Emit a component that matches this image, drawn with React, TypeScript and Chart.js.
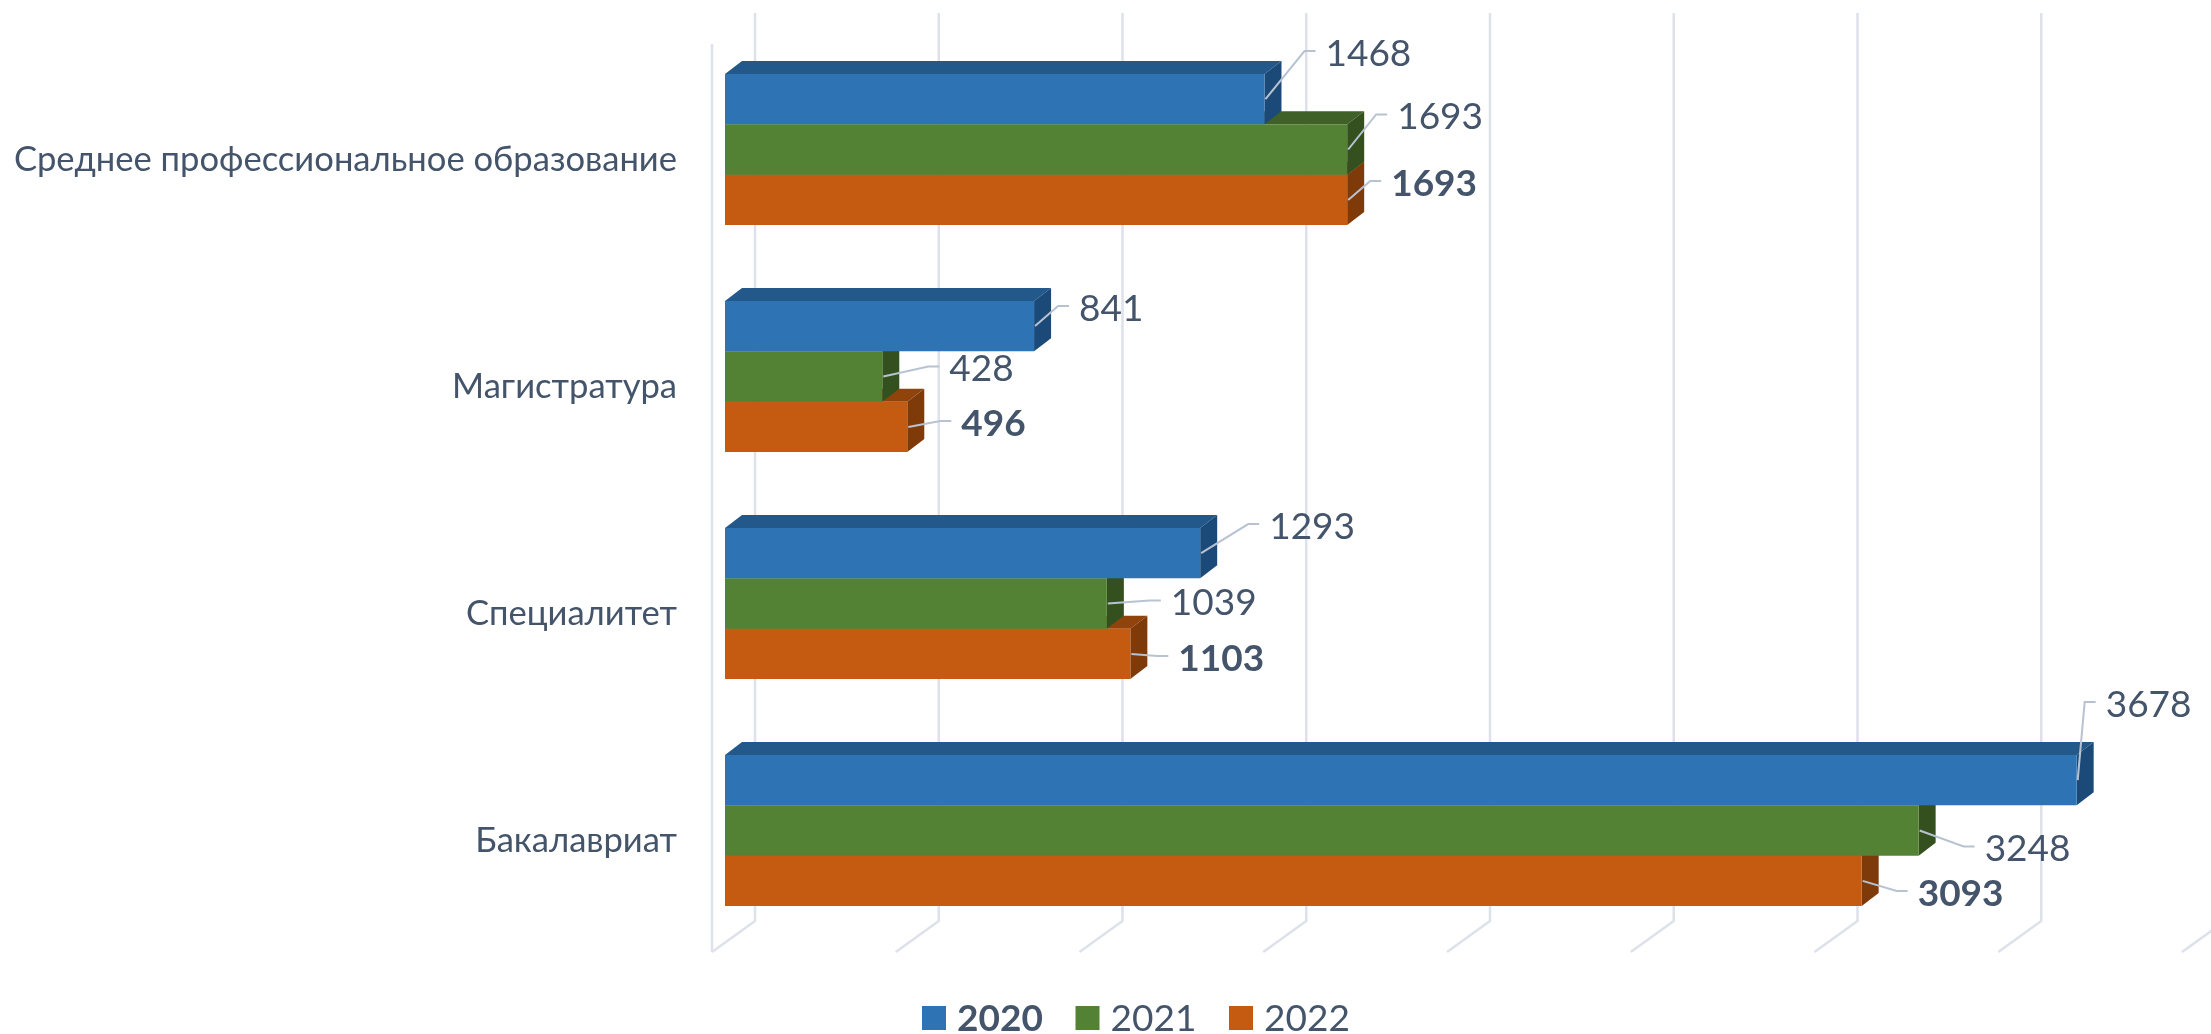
import React, { useEffect, useRef } from "react";
import { Chart, registerables } from "chart.js";

Chart.register(...registerables);

const categories = ["Среднее профессиональное образование", "Магистратура", "Специалитет", "Бакалавриат"];
const seriesNames = ["2020", "2021", "2022"];
const values2020 = [1468, 841, 1293, 3678];
const values2021 = [1693, 428, 1039, 3248];
const values2022 = [1693, 496, 1103, 3093];

const frontColors = ["#2E74B5", "#548235", "#C55A11"];
const topColors = ["#22588A", "#3F6128", "#91430C"];
const sideColors = ["#1C4A78", "#35501F", "#7F3A0A"];
const textColor = "#44546A";
const gridColor = "#DDE1EA";
const leaderColor = "#B8C3D2";
const FONT = "Lato, 'Noto Sans', sans-serif";
const VALUE_SIZE = 37;
const CATEGORY_SIZE = 34.6;

// Leader-line elbows [dx, dy] from the end of each bar, then the run to the label.
const elbows2020 = [[40, -48], [24, -20], [48, -29], [8, -78]];
const elbows2021 = [[29, -35], [46, -10], [43, -3], [45, 16]];
const elbows2022 = [[23, -19], [33, -6], [27, 2], [35, 10]];
const elbows = [elbows2020, elbows2021, elbows2022];

const depth = { x: 17, y: 13 };
const wall = { fx: -13, fy: 10, bx: 30, by: -23 };

const poly = (ctx: CanvasRenderingContext2D, pts: number[][], fill: string) => {
  ctx.beginPath();
  pts.forEach((p, i) => (i ? ctx.lineTo(p[0], p[1]) : ctx.moveTo(p[0], p[1])));
  ctx.closePath();
  ctx.fillStyle = fill;
  ctx.fill();
};

const scene3d = {
  id: "scene3d",
  beforeDatasetsDraw(chart: any) {
    const { ctx, chartArea, scales } = chart;
    ctx.save();
    ctx.strokeStyle = gridColor;
    ctx.lineWidth = 2.5;
    ctx.lineJoin = "round";
    const top = chartArea.top;
    const bottom = chartArea.bottom;
    scales.x.ticks.forEach((t: any) => {
      const x = scales.x.getPixelForValue(t.value);
      ctx.beginPath();
      ctx.moveTo(x + wall.bx, top + wall.by);
      ctx.lineTo(x + wall.bx, bottom + wall.by);
      ctx.lineTo(x + wall.fx, bottom + wall.fy - 2);
      ctx.stroke();
    });
    const x0 = scales.x.getPixelForValue(0) + wall.fx;
    ctx.beginPath();
    ctx.moveTo(x0, top + 8);
    ctx.lineTo(x0, bottom + 8);
    ctx.stroke();

    for (let d = chart.data.datasets.length - 1; d >= 0; d--) {
      chart.getDatasetMeta(d).data.forEach((bar: any) => {
        const p = bar.getProps(["x", "y", "base", "height"], true);
        const t = p.y - p.height / 2;
        const b = p.y + p.height / 2;
        poly(ctx, [[p.base, t], [p.x, t], [p.x + depth.x, t - depth.y], [p.base + depth.x, t - depth.y]], topColors[d]);
        poly(ctx, [[p.x, t], [p.x + depth.x, t - depth.y], [p.x + depth.x, b - depth.y], [p.x, b]], sideColors[d]);
      });
    }
    ctx.restore();
  },
  afterDatasetsDraw(chart: any) {
    const { ctx } = chart;
    ctx.save();
    ctx.textBaseline = "middle";
    ctx.textAlign = "left";
    chart.data.datasets.forEach((ds: any, d: number) => {
      chart.getDatasetMeta(d).data.forEach((bar: any, i: number) => {
        const p = bar.getProps(["x", "y"], true);
        const [dx, dy] = elbows[d][i];
        const ex = p.x + dx;
        const ey = p.y + dy;
        ctx.strokeStyle = leaderColor;
        ctx.lineWidth = 2;
        ctx.beginPath();
        ctx.moveTo(p.x + 1, p.y);
        ctx.lineTo(ex, ey);
        ctx.lineTo(ex + 11, ey);
        ctx.stroke();
        ctx.fillStyle = textColor;
        ctx.font = `${d === 2 ? "bold " : ""}${VALUE_SIZE}px ${FONT}`;
        ctx.fillText(String(ds.data[i]), ex + 21, ey + 3);
      });
    });
    // Legend
    let x = 922;
    chart.data.datasets.forEach((ds: any, d: number) => {
      ctx.fillStyle = ds.backgroundColor;
      ctx.fillRect(x, 1006, 24, 24);
      ctx.fillStyle = textColor;
      ctx.font = `${d === 0 ? "bold " : ""}${VALUE_SIZE}px ${FONT}`;
      ctx.fillText(ds.label, x + 35, 1019);
      x += 153.5;
    });
    ctx.restore();
  },
};

export default function App() {
  const ref = useRef<HTMLCanvasElement>(null);
  useEffect(() => {
    const chart = new Chart(ref.current!, {
      type: "bar",
      data: {
        labels: categories,
        datasets: [values2020, values2021, values2022].map((data, d) => ({
          label: seriesNames[d],
          data,
          backgroundColor: frontColors[d],
          categoryPercentage: 0.666,
          barPercentage: 1,
          borderWidth: 0,
        })),
      },
      options: {
        indexAxis: "y",
        animation: false,
        responsive: false,
        layout: { padding: { top: 36, bottom: 82, left: 0, right: 16 } },
        plugins: { legend: { display: false }, tooltip: { enabled: false } },
        scales: {
          x: {
            min: 0,
            max: 4000,
            ticks: { stepSize: 500, display: false },
            grid: { display: false },
            border: { display: false },
          },
          y: {
            afterFit: (s: any) => {
              s.width = 725;
              s.paddingTop = 0;
              s.paddingBottom = 0;
            },
            ticks: {
              padding: 48,
              labelOffset: 10,
              color: textColor,
              font: { family: FONT, size: CATEGORY_SIZE },
            },
            grid: { display: false, drawTicks: false },
            border: { display: false },
          },
        },
      },
      plugins: [scene3d],
    } as any);
    return () => chart.destroy();
  }, []);
  return (
    <div style={{ position: "absolute", left: 0, top: 0, width: 2211, height: 1034, background: "#fff", overflow: "hidden" }}>
      <canvas ref={ref} width={2211} height={1034} style={{ display: "block" }} />
    </div>
  );
}
